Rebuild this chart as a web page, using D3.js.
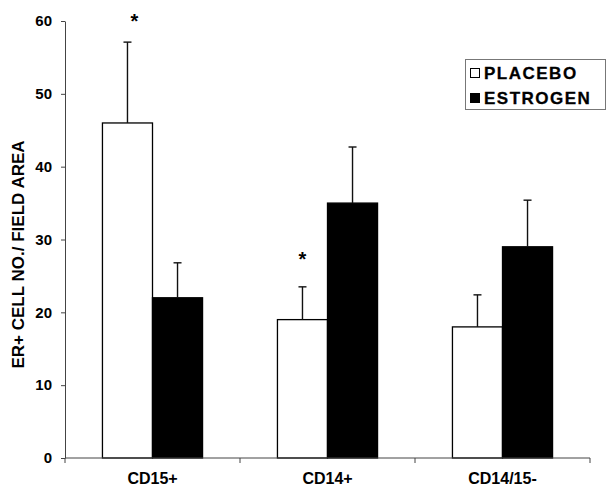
<!DOCTYPE html>
<html>
<head>
<meta charset="utf-8">
<script src="https://cdn.jsdelivr.net/npm/d3@7/dist/d3.min.js"></script>
<style>
  html, body { margin: 0; padding: 0; background: #fff; }
  svg { display: block; }
  text { font-family: "Liberation Sans", Arial, Helvetica, sans-serif; font-weight: bold; fill: #000; }
</style>
</head>
<body>
<svg id="chart" width="608" height="490"></svg>
<script>
// ---- Data ----
const categories = ["CD15+", "CD14+", "CD14/15-"];
const seriesNames = ["PLACEBO", "ESTROGEN"];
const placeboValues = [46, 19, 18];
const estrogenValues = [22, 35, 29];
const placeboErrorTop = [57.1, 23.5, 22.4];
const estrogenErrorTop = [26.8, 42.7, 35.4];
const yTickValues = [0, 10, 20, 30, 40, 50, 60];
const yAxisTitle = "ER+ CELL NO./ FIELD AREA";
const significance = [
  { category: "CD15+", series: "PLACEBO", level: 60.5 },
  { category: "CD14+", series: "PLACEBO", level: 27.9 }
];

(function () {
// ---- Build table ----
const rows = [];
categories.forEach((c, i) => {
  rows.push({ category: c, series: "PLACEBO", value: placeboValues[i], errTop: placeboErrorTop[i] });
  rows.push({ category: c, series: "ESTROGEN", value: estrogenValues[i], errTop: estrogenErrorTop[i] });
});

const svg = d3.select("#chart");
const mLeft = 65, mRight = 590, mTop = 21, mBottom = 458;

const x = d3.scaleBand().domain(categories).range([mLeft, mRight]).padding(0);
const xs = d3.scaleBand().domain(seriesNames)
  .range([x.bandwidth() * 0.214, x.bandwidth() * 0.786]).padding(0);
const y = d3.scaleLinear().domain([0, 60]).range([mBottom, mTop]);

const fillFor = { PLACEBO: "#fff", ESTROGEN: "#000" };

// Bars
svg.append("g").selectAll("rect").data(rows).join("rect")
  .attr("x", d => x(d.category) + xs(d.series))
  .attr("y", d => y(d.value))
  .attr("width", xs.bandwidth())
  .attr("height", d => y(0) - y(d.value))
  .attr("fill", d => fillFor[d.series])
  .attr("stroke", "#000")
  .attr("stroke-width", 1.3);

// Error bars (upper only)
const capW = 8;
const eg = svg.append("g").attr("stroke", "#111").attr("stroke-width", 1.4);
rows.forEach(d => {
  const cx = x(d.category) + xs(d.series) + xs.bandwidth() / 2;
  eg.append("line").attr("x1", cx).attr("x2", cx).attr("y1", y(d.value)).attr("y2", y(d.errTop));
  eg.append("line").attr("x1", cx - capW / 2).attr("x2", cx + capW / 2).attr("y1", y(d.errTop)).attr("y2", y(d.errTop));
});

// Y axis
const yAxis = d3.axisLeft(y).tickValues(yTickValues).tickSize(4).tickSizeOuter(0).tickPadding(9);
const gy = svg.append("g").attr("transform", `translate(${mLeft},0)`).call(yAxis);
gy.select(".domain").attr("stroke", "#444").attr("stroke-width", 1);
gy.selectAll(".tick line").attr("stroke", "#444");
gy.selectAll(".tick text").style("font-size", "15px").style("font-weight", "bold")
  .style("font-family", '"Liberation Sans", Arial, sans-serif').attr("fill", "#000");

// X axis (ticks at category boundaries)
const gx = svg.append("g");
gx.append("line").attr("x1", mLeft).attr("x2", mRight).attr("y1", y(0)).attr("y2", y(0))
  .attr("stroke", "#444").attr("stroke-width", 1);
const boundaries = categories.map(c => x(c)).concat([x(categories[categories.length - 1]) + x.bandwidth()]);
gx.selectAll("line.tick").data(boundaries).join("line").attr("class", "tick")
  .attr("x1", d => d).attr("x2", d => d).attr("y1", y(0)).attr("y2", y(0) + 5)
  .attr("stroke", "#444").attr("stroke-width", 1);
gx.selectAll("text").data(categories).join("text")
  .attr("x", d => x(d) + x.bandwidth() / 2)
  .attr("y", y(0) + 26)
  .attr("text-anchor", "middle")
  .style("font-size", "16px")
  .text(d => d);

// Y title
svg.append("text")
  .attr("transform", `translate(24, ${(mTop + mBottom) / 2 + 15}) rotate(-90)`)
  .attr("text-anchor", "middle")
  .style("font-size", "17px")
  .text(yAxisTitle);

// Significance asterisks
const starDx = { "CD15+": 7, "CD14+": 0, "CD14/15-": 0 };
svg.append("g").selectAll("text").data(significance).join("text")
  .attr("x", d => x(d.category) + xs(d.series) + xs.bandwidth() / 2 + starDx[d.category])
  .attr("y", d => y(d.level) + 11)
  .attr("text-anchor", "middle")
  .style("font-size", "20px")
  .text("*");

// Legend
const lg = svg.append("g");
lg.append("rect").attr("x", 465.5).attr("y", 59.5).attr("width", 140).attr("height", 50)
  .attr("fill", "#fff").attr("stroke", "#777").attr("stroke-width", 1);
seriesNames.forEach((s, i) => {
  const cy = 73 + i * 25;
  lg.append("rect").attr("x", 470.5).attr("y", cy - 4.5).attr("width", 9).attr("height", 9)
    .attr("fill", fillFor[s]).attr("stroke", "#000").attr("stroke-width", 1);
  lg.append("text").attr("x", 484).attr("y", cy + 6)
    .style("font-size", "17px").style("letter-spacing", "1.5px")
    .attr("stroke", "#000").attr("stroke-width", 0.3)
    .text(s);
});
})();
</script>
</body>
</html>
